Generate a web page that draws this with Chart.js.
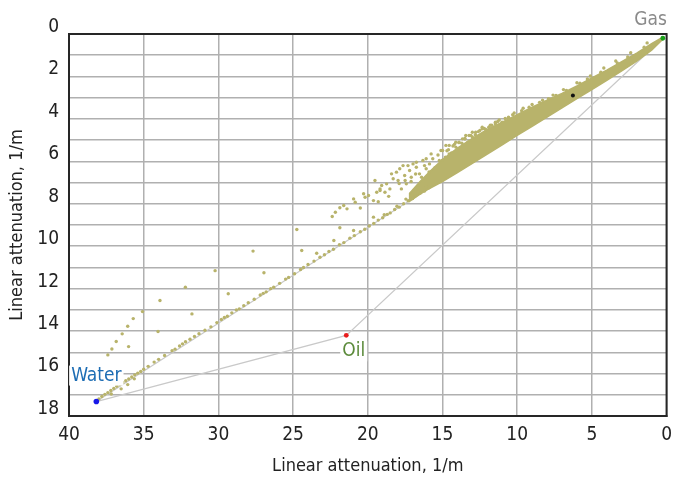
<!DOCTYPE html>
<html>
<head>
<meta charset="utf-8">
<script src="https://cdn.jsdelivr.net/npm/chart.js@4.4.1/dist/chart.umd.min.js"></script>
<style>
  html, body { margin: 0; padding: 0; background: #ffffff; }
  #wrap { width: 680px; height: 481px; position: relative; }
</style>
</head>
<body>
<div id="wrap"><canvas id="c" width="680" height="481"></canvas></div>
<script>
// ---------- DATA ----------
const axisTitle = 'Linear attenuation, 1/m';
const xTickValues = [40, 35, 30, 25, 20, 15, 10, 5, 0];
const yTickLabels = ['0', '2', '4', '6', '8', '10', '12', '14', '16', '18'];

// end members and reference point
const memberNames = ['Gas', 'Oil', 'Water'];
const memberX = [0.25, 21.44, 38.17];
const memberY = [0.2, 14.2, 17.32];
const refPoint = [6.27, 2.9];

// dense core of the measurement cloud (outline: top edge then bottom edge)
const bandTop = [[0.25,0.15],[1,0.46],[2,0.9],[3,1.3],[4,1.7],[5,2.07],[6,2.45],[7,2.8],[8,3.12],[9,3.45],[10,3.8],[11,4.15],[12,4.5],[13,4.92],[14,5.38],[15,5.92],[15.8,6.45],[16.5,6.95],[17.2,7.5]];
const bandBottom = [[17.2,7.88],[16.5,7.55],[16,7.33],[15,6.96],[14,6.53],[13,6.1],[12,5.66],[11,5.22],[10,4.78],[9,4.35],[8,3.92],[7,3.48],[6,3.05],[5,2.62],[4,2.18],[3,1.74],[2,1.28],[1,0.76],[0.25,0.24]];

// measurements along the water-gas trend
const linePoints = [[15.3,6.98],[15.6,7.08],[15.9,7.25],[16.2,7.4],[16.5,7.5],[16.8,7.62],[17.0,7.75],[17.3,7.86],[17.6,8.0],[17.9,8.16],[18.2,8.27],[18.5,8.43],[18.7,8.5],[19.0,8.66],[19.3,8.77],[19.6,8.93],[19.9,9.05],[20.2,9.2],[20.5,9.32],[20.9,9.5],[21.2,9.62],[21.6,9.83],[21.9,9.93],[22.3,10.14],[22.6,10.25],[22.9,10.4],[23.2,10.52],[23.6,10.7],[24.0,10.86],[24.3,11.0],[24.5,11.1],[24.9,11.3],[25.3,11.47],[25.5,11.55],[25.9,11.75],[26.3,11.93],[26.5,12.0],[26.8,12.15],[27.0,12.22],[27.2,12.3],[27.6,12.5],[28.0,12.66],[28.3,12.8],[28.6,12.95],[28.8,13.0],[29.1,13.14],[29.4,13.3],[29.6,13.36],[29.8,13.45],[30.1,13.6],[30.5,13.8],[30.9,13.96],[31.3,14.12],[31.6,14.25],[31.9,14.38],[32.2,14.5],[32.4,14.6],[32.6,14.7],[32.9,14.85],[33.1,14.92],[33.6,15.15],[34.0,15.33],[34.3,15.46],[34.7,15.66],[35.0,15.8],[35.2,15.9],[35.4,15.98],[35.6,16.06],[35.8,16.16],[36.0,16.26],[36.2,16.34],[36.4,16.42],[36.6,16.52],[36.8,16.6],[37.0,16.7],[37.2,16.8],[37.4,16.9],[37.6,16.98],[37.8,17.08],[38.0,17.2],[37.17,16.96],[36.51,16.72],[36.07,16.52],[35.63,16.25],[36.73,16.46],[17.45,7.78],[18.05,8.12],[18.9,8.52],[16.1,7.2],[16.65,7.45]];

// scattered measurements above the trend (middle of the chart)
const cloudPoints = [[24.75,9.21],[24.42,10.2],[22.38,8.6],[22.17,8.4],[21.87,8.19],[21.61,8.08],[21.39,8.24],[20.95,7.77],[20.84,7.93],[20.28,7.53],[20.18,7.69],[19.95,7.61],[19.62,7.85],[19.52,6.9],[19.4,7.46],[19.18,7.3],[19.07,7.14],[18.85,7.46],[18.74,7.06],[18.52,7.3],[18.41,6.59],[18.3,6.82],[18.08,6.51],[17.97,6.9],[17.86,6.35],[17.75,7.3],[17.64,6.2],[17.53,6.67],[17.42,7.06],[17.2,6.43],[17.09,6.75],[16.97,6.12],[16.75,6.28],[16.54,6.59],[16.31,5.96],[16.09,6.35],[15.87,6.12],[15.76,5.65],[15.65,5.88],[21.87,9.13],[20.95,9.26],[19.62,8.63],[22.27,9.73],[23.42,10.33],[15.1,5.49],[14.77,5.25],[14.55,5.65],[14.11,5.33],[13.89,5.1],[13.44,4.78],[13.0,4.63],[12.34,4.39],[11.46,4.16],[10.58,3.92],[19.18,7.38],[17.31,6.2],[16.75,6.04],[16.09,5.88],[15.21,5.96],[14.99,5.49],[14.55,5.25],[14.11,5.1],[13.66,4.94],[13.22,4.78],[12.78,4.63],[12.34,4.47],[11.9,4.39],[11.46,4.23],[11.01,4.16],[10.58,4.0],[17.9,7.05],[17.5,6.9],[17.1,6.95],[16.8,6.6],[16.4,6.75],[16.2,6.2],[15.9,6.5],[15.5,6.3],[15.3,5.7],[15.0,5.95],[14.8,5.8],[14.6,5.45],[14.4,5.6],[14.2,5.2],[13.95,5.4],[13.7,5.15],[13.5,4.95],[13.3,5.1],[13.0,4.85],[12.8,4.75],[12.5,4.55],[12.1,4.5],[11.8,4.3],[18.6,7.65],[19.3,7.9],[20.5,8.2]];

// ragged upper edge of the dense core
const edgePoints = [[1.5,0.62],[2.6,1.08],[3.3,1.36],[4.4,1.8],[5.3,2.12],[5.8,2.32],[6.7,2.66],[7.4,2.9],[7.9,3.05],[8.5,3.22],[9.2,3.45],[9.7,3.62],[10.3,3.8],[10.8,3.98],[11.3,4.12],[11.7,4.3],[12.2,4.45],[12.6,4.6],[13.1,4.78],[13.5,4.92],[13.9,5.12],[14.3,5.28],[14.7,5.5],[11.2,4.05],[10.2,3.72],[9.6,3.5],[9.0,3.32],[8.3,3.12],[7.6,2.88],[6.9,2.62],[6.0,2.3],[5.1,1.98],[4.2,1.6],[3.4,1.27],[2.4,0.88],[1.3,0.42]];

// upper-left trail near water
const trailPoints = [[37.4,15.12],[37.13,14.84],[36.84,14.49],[36.44,14.13],[36.07,13.77],[35.7,13.41],[35.08,13.08],[36.01,14.73],[34.04,14.02],[33.91,12.56],[32.21,11.93],[31.77,13.19],[30.22,11.15],[29.34,12.24],[27.68,10.23],[26.95,11.25]];

// ---------- font choice ----------
function pickFont(list) {
  const c = document.createElement('canvas').getContext('2d');
  const t = 'Linear attenuation 0123456789';
  for (const f of list) {
    c.font = '20px monospace'; const a = c.measureText(t).width;
    c.font = '20px "' + f + '", monospace'; const b = c.measureText(t).width;
    c.font = '20px serif'; const d = c.measureText(t).width;
    c.font = '20px "' + f + '", serif'; const e = c.measureText(t).width;
    if (a !== b || d !== e) return f;
  }
  return 'Roboto';
}
const FONT = pickFont(['Liberation Sans Narrow', 'DejaVu Sans Condensed', 'Roboto Condensed', 'Open Sans Condensed']);

const olive = '#b8b36b';
const toXY = arr => arr.map(p => ({x: p[0], y: p[1]}));

const gasIdx = 0, oilIdx = 1, waterIdx = 2;
const triangle = [waterIdx, oilIdx, gasIdx, waterIdx].map(i => ({x: memberX[i], y: memberY[i]}));
const bandOutline = toXY(bandTop.concat(bandBottom));

const labelPlugin = {
  id: 'labelPlugin',
  beforeDatasetsDraw(chart) {
    const {ctx, chartArea: a} = chart;
    ctx.save();
    ctx.strokeStyle = '#262626';
    ctx.lineWidth = 2;
    ctx.strokeRect(a.left, a.top, a.right - a.left, a.bottom - a.top);
    ctx.restore();
  },
  afterDatasetsDraw(chart) {
    const {ctx, scales: {x, y}} = chart;
    ctx.save();
    ctx.font = '19px "' + FONT + '"';
    ctx.textBaseline = 'middle';
    // Gas
    let px = x.getPixelForValue(memberX[gasIdx]), py = y.getPixelForValue(memberY[gasIdx]);
    ctx.textAlign = 'right';
    ctx.fillStyle = '#8a8a8a';
    ctx.fillText(memberNames[gasIdx], px + 4, py - 18);
    // Oil
    px = x.getPixelForValue(memberX[oilIdx]); py = y.getPixelForValue(memberY[oilIdx]);
    ctx.textAlign = 'left';
    let w = ctx.measureText(memberNames[oilIdx]).width;
    ctx.fillStyle = '#ffffff';
    ctx.fillRect(px - 6, py + 6, w + 4, 20);
    ctx.fillStyle = '#5b8a3a';
    ctx.fillText(memberNames[oilIdx], px - 4, py + 16);
    // Water
    px = x.getPixelForValue(memberX[waterIdx]); py = y.getPixelForValue(memberY[waterIdx]);
    ctx.textAlign = 'center';
    w = ctx.measureText(memberNames[waterIdx]).width;
    ctx.fillStyle = '#ffffff';
    ctx.fillRect(px - w / 2 - 2, py - 36, w + 4, 20);
    ctx.fillStyle = '#1d6db4';
    ctx.fillText(memberNames[waterIdx], px, py - 26);
    ctx.restore();
  }
};

const scatterStyle = {
  type: 'scatter', showLine: false, pointRadius: 1.7, pointHoverRadius: 1.7,
  pointBackgroundColor: olive, pointBorderWidth: 0, borderColor: olive, backgroundColor: olive
};

new Chart(document.getElementById('c'), {
  type: 'scatter',
  data: {
    datasets: [
      {
        type: 'scatter', order: 0, clip: false,
        data: memberNames.map((n, i) => ({x: memberX[i], y: memberY[i]})).concat([{x: refPoint[0], y: refPoint[1]}]),
        pointBackgroundColor: ['#1aa01a', '#e81c1c', '#1818e8', '#111111'],
        pointBorderWidth: 0,
        pointRadius: [2.4, 2.4, 2.8, 2.0]
      },
      Object.assign({order: 1, data: toXY(linePoints)}, scatterStyle),
      Object.assign({order: 2, data: toXY(cloudPoints)}, scatterStyle),
      Object.assign({order: 3, data: toXY(edgePoints)}, scatterStyle),
      Object.assign({order: 4, data: toXY(trailPoints)}, scatterStyle),
      {
        type: 'line', order: 5, data: bandOutline, fill: 'shape',
        backgroundColor: olive, borderColor: olive, borderWidth: 1.5,
        pointRadius: 0, tension: 0
      },
      {
        type: 'line', order: 6, data: triangle, fill: false,
        borderColor: '#c9c9c9', borderWidth: 1.2, pointRadius: 0, tension: 0
      }
    ]
  },
  options: {
    responsive: false,
    animation: false,
    events: [],
    layout: { padding: { top: 34, right: 7, left: 0, bottom: 0 } },
    plugins: { legend: { display: false }, tooltip: { enabled: false } },
    scales: {
      x: {
        type: 'linear', reverse: true, min: 0, max: 40,
        afterFit(s) { s.height = 65; },
        afterBuildTicks(s) { s.ticks = xTickValues.map(v => ({value: v})); },
        ticks: { stepSize: 5, autoSkip: false, maxRotation: 0, padding: 8, color: '#222',
                 font: { family: FONT, size: 19 } },
        grid: { color: '#b0b0b0', lineWidth: 1.5, drawTicks: false },
        border: { display: true, color: '#262626', width: 2 },
        title: { display: true, text: axisTitle, color: '#222', font: { family: FONT, size: 18 },
                 padding: { top: 0, bottom: 4 } }
      },
      y: {
        type: 'linear', reverse: true, min: 0, max: 18,
        afterFit(s) { s.width = 69; },
        ticks: { stepSize: 1, autoSkip: false, padding: 10, labelOffset: -7, color: '#222',
                 font: { family: FONT, size: 19 },
                 callback: v => (v % 2 === 0 ? yTickLabels[v / 2] : '') },
        grid: { color: '#b0b0b0', lineWidth: 1.5, drawTicks: false },
        border: { display: true, color: '#262626', width: 2 },
        title: { display: true, text: axisTitle, color: '#222', font: { family: FONT, size: 18 },
                 padding: { top: 7, bottom: 0 } }
      }
    }
  },
  plugins: [labelPlugin]
});
</script>
</body>
</html>
